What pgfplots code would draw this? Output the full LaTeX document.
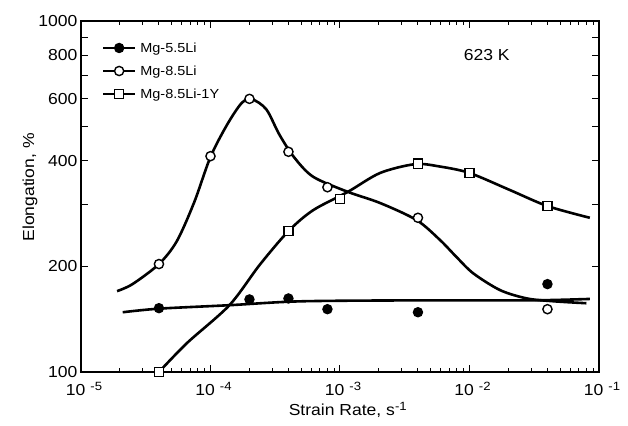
\documentclass[border=0pt]{standalone}
\usepackage{pgfplots}
\pgfplotsset{compat=1.18}
\usepackage{fontspec}
\setmainfont{Liberation Sans}[FakeStretch=1.1]
\newcommand{\dec}[1]{10\hspace{5bp}\raisebox{5bp}{\fontsize{12}{14}\selectfont #1}}
\begin{document}
\begin{tikzpicture}
\useasboundingbox (-81bp,-54bp) rectangle (547bp,372bp);
\begin{axis}[
  at={(0,0)}, anchor=south west,
  scale only axis, width=518bp, height=351bp,
  xmode=log, ymode=log,
  xmin=1e-5, xmax=1e-1, ymin=100, ymax=1000,
  xtick={1e-5,1e-4,1e-3,1e-2,1e-1},
  xticklabels={\dec{-5},\dec{-4},\dec{-3},\dec{-2},\dec{-1}},
  xticklabel style={yshift=-7bp, xshift=3bp},
  minor xtick={2e-5,3e-5,4e-5,5e-5,6e-5,7e-5,8e-5,9e-5,2e-4,3e-4,4e-4,5e-4,6e-4,7e-4,8e-4,9e-4,2e-3,3e-3,4e-3,5e-3,6e-3,7e-3,8e-3,9e-3,2e-2,3e-2,4e-2,5e-2,6e-2,7e-2,8e-2,9e-2},
  ytick={100,200,300,400,500,600,700,800,900,1000},
  yticklabels={100,200,,400,,600,,800,,1000},
  tick align=inside,
  major tick length=7bp, minor tick length=4bp,
  axis line style={line width=1.8bp},
  every tick/.style={black, line width=1bp},
  tick label style={font=\fontsize{16}{18}\selectfont},
  label style={font=\fontsize{16}{18}\selectfont},
  xlabel={Strain Rate, s\raisebox{5bp}{\fontsize{12}{14}\selectfont -1}},
  ylabel={Elongation, \%},
  xlabel style={at={(axis description cs:0.515,-0.108)}, anchor=center},
  ylabel style={at={(axis description cs:-0.0985,0.526)}, anchor=center},
  legend style={at={(axis description cs:0.04,0.945)}, anchor=north west, draw=none, fill=none,
    font=\fontsize{13.2}{15}\selectfont, row sep=8bp, column sep=2bp, inner sep=0pt},
  legend cell align=left,
  legend image code/.code={\draw[mark repeat=2,mark phase=2] plot coordinates {(0bp,0bp) (16bp,0bp) (32bp,0bp)};},
]
\addlegendimage{black, line width=2.5bp, mark=*, mark size=4.6bp, mark options={solid, fill=black, line width=1.2bp}}
\addlegendentry{Mg-5.5Li}
\addlegendimage{black, line width=2.5bp, mark=*, mark size=4.6bp, mark options={solid, fill=white, line width=1.4bp}}
\addlegendentry{Mg-8.5Li}
\addlegendimage{black, line width=2.5bp, mark=square*, mark size=4.6bp, mark options={solid, fill=white, line width=1.4bp}}
\addlegendentry{Mg-8.5Li-1Y}

% fitted curves
\addplot[black, line width=2.6bp, smooth, tension=0.5, forget plot] coordinates {
 (2.1e-5,148) (4e-5,151.5) (1.4e-4,155) (5e-4,159) (4e-3,160) (3e-2,160) (8.5e-2,161.5)};
\addplot[black, line width=2.6bp, smooth, tension=0.5, forget plot] coordinates {
 (1.9e-5,170) (2.5e-5,178) (4e-5,203) (5.5e-5,236) (7.5e-5,305) (1e-4,410) (1.35e-4,508)
 (1.75e-4,585) (2.1e-4,598) (2.7e-4,560) (3.4e-4,475) (4.4e-4,410) (6.2e-4,360)
 (1.15e-3,326) (2.04e-3,303) (3.9e-3,271) (5.9e-3,238) (7.9e-3,213) (1.07e-2,191)
 (1.73e-2,171) (2.78e-2,162) (4.5e-2,159) (8e-2,157)};
\addplot[black, line width=2.6bp, smooth, tension=0.5, forget plot] coordinates {
 (4e-5,100) (6.6e-5,121) (1.4e-4,155) (2.4e-4,202) (4e-4,252)
 (6.2e-4,289) (1.15e-3,326) (2.04e-3,369) (3.8e-3,391) (5.9e-3,385) (1e-2,369)
 (2.05e-2,330) (4e-2,297) (8.5e-2,275)};

% data points
\addplot[only marks, mark=*, mark size=4.6bp, mark options={fill=black, draw=black, line width=1.2bp}, forget plot] coordinates {
 (4e-5,152) (2e-4,161) (4e-4,162) (8e-4,151) (4e-3,148) (4e-2,178)};
\addplot[only marks, mark=*, mark size=4.6bp, mark options={fill=white, draw=black, line width=1.4bp}, forget plot] coordinates {
 (4e-5,203) (1e-4,412) (2e-4,600) (4e-4,424) (8e-4,336) (4e-3,275) (4e-2,151)};
\addplot[only marks, mark=square*, mark size=4.6bp, mark options={fill=white, draw=black, line width=1.4bp}, forget plot] coordinates {
 (4e-5,100) (4e-4,252) (1e-3,311) (4e-3,392) (1e-2,369) (4e-2,297)};

\node[font=\fontsize{16}{18}\selectfont] at (axis cs:1.36e-2,800) {623 K};
\end{axis}
\end{tikzpicture}
\end{document}
